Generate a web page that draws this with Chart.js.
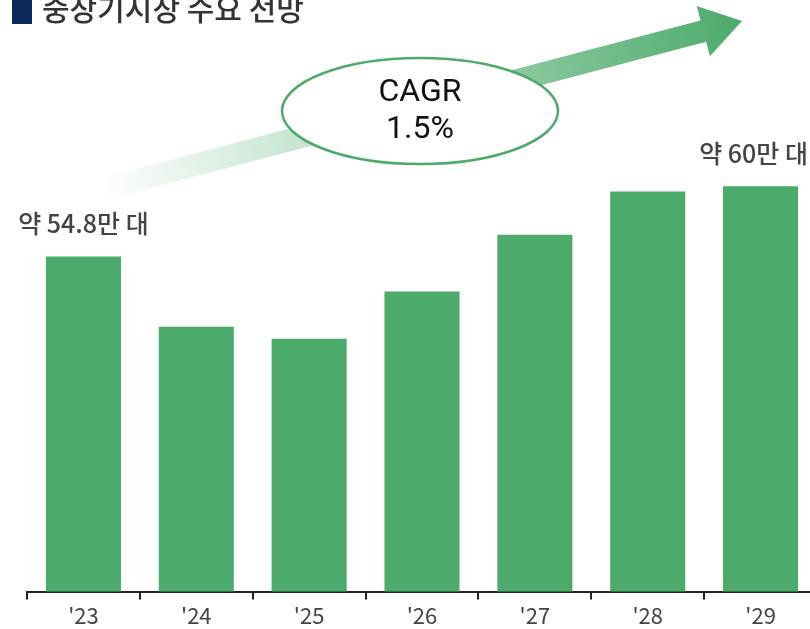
<!DOCTYPE html>
<html>
<head>
<meta charset="utf-8">
<script src="https://cdn.jsdelivr.net/npm/chart.js@4.4.1/dist/chart.umd.min.js"></script>
<style>
  html, body { margin: 0; padding: 0; background: #fff; overflow: hidden; }
  #wrap { width: 817px; height: 629px; overflow: hidden; }
</style>
</head>
<body>
<div id="wrap"><canvas id="demand_chart" width="817" height="632"></canvas></div>
<script>
const years = ["'23", "'24", "'25", "'26", "'27", "'28", "'29"]; // categorias
const demand = [54.8, 49.6, 48.7, 52.2, 56.4, 59.6, 60.0]; // 만 대
const valueLabels = ['약 54.8만 대', null, null, null, null, null, '약 60만 대'];
const titleText = '중장기시장 수요 전망';
const cagrLines = ['CAGR', '1.5%'];

const green = '#4cab6b';
const krFont = '"Noto Sans CJK KR", "Noto Sans", sans-serif';

// titulo + seta CAGR + rotulos das barras
const decorations = {
    id: 'decorations',
    afterDraw(chart) {
        const ctx = chart.ctx;
        ctx.save();

        // titulo (cortado no topo como no original)
        ctx.fillStyle = '#0b2a5b';
        ctx.fillRect(12, 0, 20, 24);
        ctx.fillStyle = '#333';
        ctx.font = '500 30px ' + krFont;
        ctx.textAlign = 'left';
        ctx.textBaseline = 'alphabetic';
        ctx.fillText(titleText, 42, 20);

        // seta com gradiente
        const sx = 100, sy = 190, tx = 742, ty = 21;
        const len = Math.hypot(tx - sx, ty - sy);
        const ux = (tx - sx) / len, uy = (ty - sy) / len;
        const nx = -uy, ny = ux;
        const hw = 11, headLen = 40, headW = 26;
        const bx = tx - ux * headLen, by = ty - uy * headLen;
        const grad = ctx.createLinearGradient(sx, sy, tx, ty);
        grad.addColorStop(0, 'rgba(76,171,107,0)');
        grad.addColorStop(0.45, 'rgba(76,171,107,0.45)');
        grad.addColorStop(1, 'rgba(76,171,107,1)');
        ctx.fillStyle = grad;
        ctx.beginPath();
        ctx.moveTo(sx + nx * hw, sy + ny * hw);
        ctx.lineTo(bx + nx * hw, by + ny * hw);
        ctx.lineTo(bx + nx * headW, by + ny * headW);
        ctx.lineTo(tx, ty);
        ctx.lineTo(bx - nx * headW, by - ny * headW);
        ctx.lineTo(bx - nx * hw, by - ny * hw);
        ctx.lineTo(sx - nx * hw, sy - ny * hw);
        ctx.closePath();
        ctx.fill();

        // elipse CAGR
        ctx.beginPath();
        ctx.ellipse(420, 111, 138, 53, 0, 0, Math.PI * 2);
        ctx.fillStyle = '#fff';
        ctx.fill();
        ctx.lineWidth = 2.5;
        ctx.strokeStyle = green;
        ctx.stroke();
        ctx.fillStyle = '#111';
        ctx.font = '32px Roboto, sans-serif';
        ctx.textAlign = 'center';
        ctx.textBaseline = 'middle';
        ctx.fillText(cagrLines[0], 420, 93);
        ctx.fillText(cagrLines[1], 420, 130);

        // rotulos de valor
        const meta = chart.getDatasetMeta(0);
        ctx.font = '500 25px ' + krFont;
        ctx.fillStyle = '#444';
        ctx.textBaseline = 'middle';
        meta.data.forEach((bar, i) => {
            const txt = valueLabels[i];
            if (!txt) return;
            const w = ctx.measureText(txt).width;
            let left = bar.x - w / 2;
            if (left + w > 808) left = 808 - w;
            ctx.textAlign = 'left';
            ctx.fillText(txt, left, bar.y - 33);
        });
        ctx.restore();
    }
};

const demand_chart = document.getElementById('demand_chart');
new Chart(demand_chart, {
    type: 'bar',
    data: {
        labels: years,
        datasets: [{
            data: demand,
            backgroundColor: green,
            borderWidth: 0,
            categoryPercentage: 1,
            barPercentage: 0.665
        }]
    },
    options: {
        responsive: false,
        animation: false,
        layout: {
            padding: { left: 27, right: 0, top: 51, bottom: 0 }
        },
        scales: {
            x: {
                border: { display: true, color: '#222', width: 2 },
                grid: {
                    display: true,
                    drawOnChartArea: false,
                    drawTicks: true,
                    tickLength: 8,
                    color: '#222',
                    lineWidth: 2
                },
                ticks: {
                    color: '#444',
                    padding: 3,
                    font: { family: krFont, size: 22 }
                }
            },
            y: {
                display: false, // eixo y escondido
                min: 30,
                max: 70
            }
        },
        plugins: {
            legend: { display: false },
            tooltip: { enabled: false }
        }
    },
    plugins: [decorations]
});
</script>
</body>
</html>
